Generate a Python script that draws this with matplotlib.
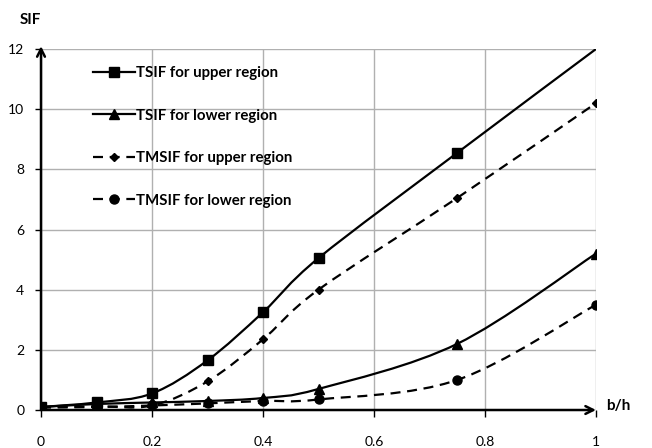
import matplotlib.pyplot as plt
from matplotlib.path import Path
from matplotlib.patches import PathPatch
from matplotlib.lines import Line2D

plt.rcParams['font.family'] = ['Lato', 'DejaVu Sans']

b_h = [0, 0.1, 0.2, 0.3, 0.4, 0.5, 0.75, 1.0]
tsif_upper = [0.1, 0.25, 0.55, 1.65, 3.25, 5.05, 8.55, 12.0]
tsif_lower = [0.1, 0.2, 0.25, 0.3, 0.4, 0.7, 2.2, 5.2]
tmsif_upper = [0.1, 0.12, 0.15, 0.95, 2.35, 4.0, 7.05, 10.2]
tmsif_lower = [0.08, 0.1, 0.15, 0.22, 0.3, 0.35, 1.0, 3.5]

labels = ['TSIF for upper region', 'TSIF for lower region',
          'TMSIF for upper region', 'TMSIF for lower region']
x_ticks = [0, 0.2, 0.4, 0.6, 0.8, 1]
y_ticks = [0, 2, 4, 6, 8, 10, 12]


def smooth_path(x, y):
    """Bezier path through the points, like a spreadsheet 'smoothed line'."""
    pts = list(zip(x, y))
    n = len(pts)
    verts = [pts[0]]
    codes = [Path.MOVETO]
    for i in range(n - 1):
        p0 = pts[i - 1] if i > 0 else pts[i]
        p1 = pts[i]
        p2 = pts[i + 1]
        p3 = pts[i + 2] if i + 2 < n else pts[i + 1]
        c1 = (p1[0] + (p2[0] - p0[0]) / 6, p1[1] + (p2[1] - p0[1]) / 6)
        c2 = (p2[0] - (p3[0] - p1[0]) / 6, p2[1] - (p3[1] - p1[1]) / 6)
        verts += [c1, c2, p2]
        codes += [Path.CURVE4] * 3
    return Path(verts, codes)


fig = plt.figure(figsize=(6.52, 4.48), dpi=100)
ax = fig.add_axes([0.0629, 0.0848, 0.8512, 0.8058])

dashed = (0, (4.5, 3))
series = [
    (tsif_upper, 's', 6.5, '-'),
    (tsif_lower, '^', 6.5, '-'),
    (tmsif_upper, 'D', 4.5, dashed),
    (tmsif_lower, 'o', 6.5, dashed),
]

handles = []
for (vals, mk, ms, ls), lab in zip(series, labels):
    patch = PathPatch(smooth_path(b_h, vals), fill=False, edgecolor='black',
                      lw=1.6, linestyle=ls, zorder=3)
    ax.add_patch(patch)
    # the point sitting on the top-right corner is hidden by the plot edge
    shown = [i for i, v in enumerate(vals) if v < 12]
    ax.plot(b_h, vals, linestyle='none', marker=mk, markersize=ms,
            markevery=shown, color='black', zorder=4)
    handles.append(Line2D([], [], color='black', lw=1.6, linestyle=ls,
                          marker=mk, markersize=ms))

ax.set_xlim(0, 1)
ax.set_ylim(0, 12)
ax.set_xticks(x_ticks)
ax.set_xticklabels(['0', '0.2', '0.4', '0.6', '0.8', '1'])
ax.set_yticks(y_ticks)
ax.grid(True, color='#b0b0b0', lw=1)
ax.set_axisbelow(True)

for side in ['top', 'right', 'left', 'bottom']:
    ax.spines[side].set_visible(False)

# axes drawn as arrows
ax.annotate('', xy=(0, 1.008), xytext=(0, 0), xycoords='axes fraction',
            arrowprops=dict(arrowstyle='->', lw=1.8, color='black',
                            shrinkA=0, shrinkB=0, mutation_scale=14),
            annotation_clip=False)
ax.annotate('', xy=(1.0, 0), xytext=(0, 0), xycoords='axes fraction',
            arrowprops=dict(arrowstyle='->', lw=1.8, color='black',
                            shrinkA=0, shrinkB=0, mutation_scale=14),
            annotation_clip=False)

ax.tick_params(axis='y', direction='out', length=4, width=1, pad=8,
               labelsize=10, color='black')
ax.tick_params(axis='x', direction='out', length=5, width=1, pad=14,
               labelsize=10, color='black')

fig.text(0.046, 0.955, 'SIF', fontsize=11, fontweight='bold',
         ha='center', va='center')
fig.text(0.948, 0.093, 'b/h', fontsize=11, fontweight='bold',
         ha='center', va='center')

ax.legend(handles, labels, loc='upper left', bbox_to_anchor=(0.07, 0.99),
          frameon=False, handlelength=2.75, handletextpad=0.1,
          labelspacing=1.9, prop={'size': 10.8, 'weight': 'bold'})

fig.savefig('out.png', dpi=100)
